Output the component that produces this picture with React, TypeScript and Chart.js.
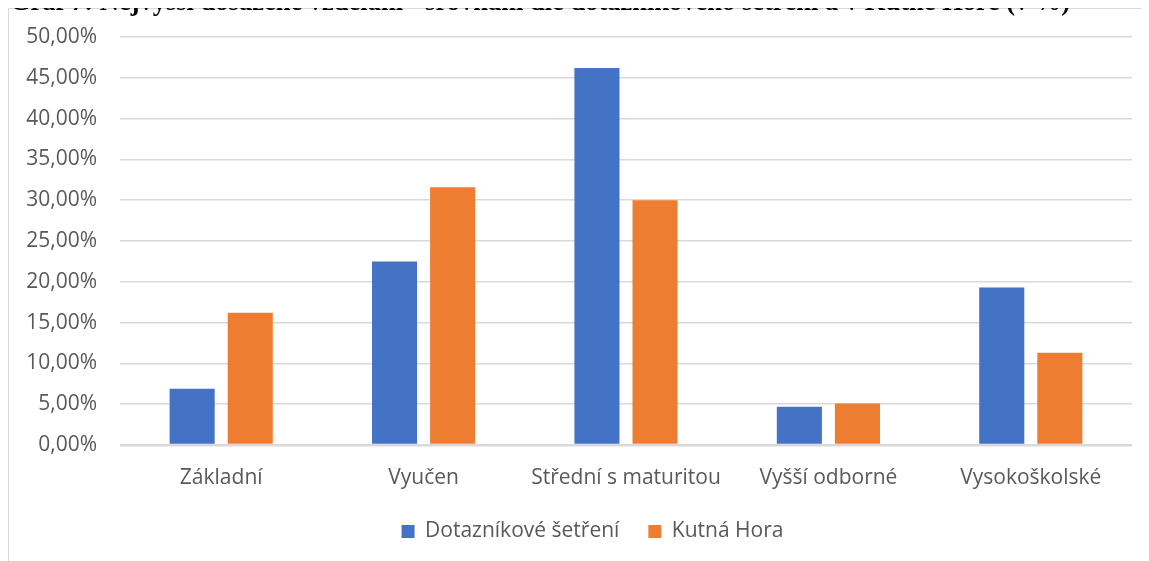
import React, { useEffect, useRef } from "react";
import { Chart, registerables } from "chart.js";

Chart.register(...registerables);

const categories = ["Základní", "Vyučen", "Střední s maturitou", "Vyšší odborné", "Vysokoškolské"];
const surveyValues = [6.9, 22.5, 46.2, 4.7, 19.3];
const kutnaHoraValues = [16.2, 31.6, 30.0, 5.1, 11.3];
const seriesNames = ["Dotazníkové šetření", "Kutná Hora"];
const titleText = "Graf 7: Nejvyšší dosažené vzdělání - srovnání dle dotazníkového šetření a v Kutné Hoře (v %)";

const FONT = "'Open Sans', sans-serif";
const TEXT = "#595959";
const GRID = "#d9d9d9";

const legendShift = {
  id: "legendShift",
  afterLayout(chart: any) {
    if (chart.legend) chart.legend.left += 44;
  },
};

export default function App() {
  const ref = useRef<HTMLCanvasElement | null>(null);
  useEffect(() => {
    if (!ref.current) return;
    const chart = new Chart(ref.current, {
      type: "bar",
      data: {
        labels: categories,
        datasets: [
          { label: seriesNames[0], data: surveyValues, backgroundColor: "#4472C4", categoryPercentage: 0.574, barPercentage: 0.776 },
          { label: seriesNames[1], data: kutnaHoraValues, backgroundColor: "#ED7D31", categoryPercentage: 0.574, barPercentage: 0.776 },
        ],
      },
      plugins: [legendShift],
      options: {
        animation: false,
        responsive: false,
        maintainAspectRatio: false,
        layout: { padding: { left: 0, right: 17, top: 28, bottom: 9 } },
        plugins: {
          tooltip: { enabled: false },
          legend: {
            position: "bottom",
            labels: {
              boxWidth: 13,
              boxHeight: 13,
              padding: 29,
              color: TEXT,
              font: { family: FONT, size: 21 },
            },
          },
        },
        scales: {
          x: {
            afterFit: (s: any) => { s.height = 47; },
            grid: { display: false, drawTicks: false },
            border: { display: false },
            ticks: { color: TEXT, font: { family: FONT, size: 21 }, padding: 20, maxRotation: 0, autoSkip: false },
          },
          y: {
            min: 0,
            max: 50,
            afterFit: (s: any) => { s.width = 111; s.paddingTop = 0; },
            grid: {
              color: GRID,
              lineWidth: (ctx: any) => (ctx.tick && ctx.tick.value === 0 ? 2.5 : 1.5),
              drawTicks: false,
            },
            border: { display: false },
            ticks: {
              stepSize: 5,
              padding: 23,
              color: TEXT,
              font: { family: FONT, size: 21 },
              callback: (v: any) => Number(v).toFixed(2).replace(".", ",") + "%",
            },
          },
        },
      },
    });
    return () => chart.destroy();
  }, []);

  return (
    <div style={{ position: "relative", width: 1141, height: 553 }}>
      <div
        style={{
          position: "absolute",
          left: 0,
          top: 0,
          width: 1141,
          height: 553,
          borderTop: "1px solid " + GRID,
          borderLeft: "1px solid " + GRID,
          boxSizing: "border-box",
          background: "#fff",
        }}
      >
        <canvas ref={ref} width={1140} height={552} style={{ display: "block" }} />
      </div>
      <div
        style={{
          position: "absolute",
          left: 2,
          top: -22,
          whiteSpace: "nowrap",
          fontFamily: "'Liberation Serif', 'Times New Roman', serif",
          fontWeight: "bold",
          fontSize: 26.5,
          lineHeight: "30px",
          color: "#000",
          zIndex: 2,
        }}
      >
        {titleText}
      </div>
    </div>
  );
}
